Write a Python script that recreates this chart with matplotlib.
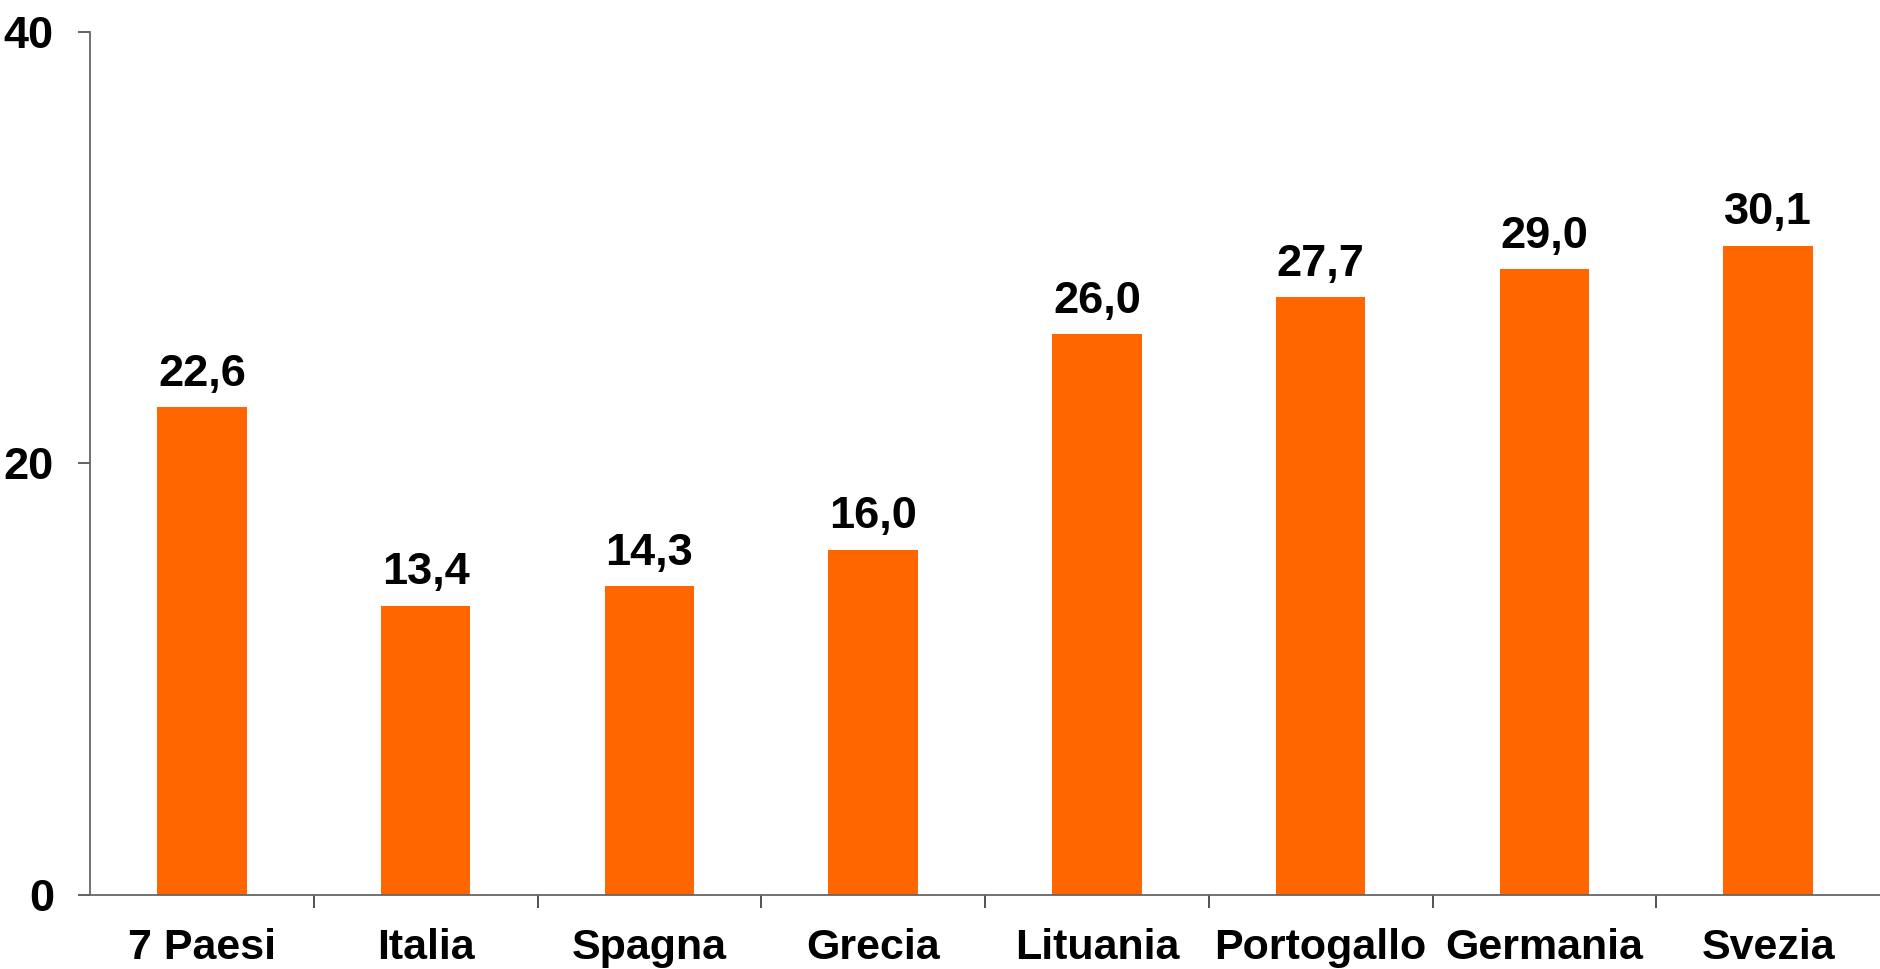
import numpy as np
import matplotlib
matplotlib.use("Agg")
import matplotlib.pyplot as plt
from matplotlib.ticker import FixedLocator

countries = ["7 Paesi", "Italia", "Spagna", "Grecia", "Lituania",
             "Portogallo", "Germania", "Svezia"]
values = [22.6, 13.4, 14.3, 16.0, 26.0, 27.7, 29.0, 30.1]
yticks = [0, 20, 40]

plt.rcParams["font.family"] = ["Liberation Sans", "DejaVu Sans"]
plt.rcParams["font.weight"] = "bold"

fig = plt.figure(figsize=(18.8, 9.69), dpi=100)
ax = fig.add_axes([90 / 1880, 74 / 969, 1790 / 1880, 863 / 969])

x = np.arange(len(countries))
ax.bar(x, values, width=0.4, color="#FF6600", zorder=2)

for xi, v in zip(x, values):
    ax.annotate(f"{v:.1f}".replace(".", ","), (xi, v), xytext=(0, 9),
                textcoords="offset points", ha="center", va="bottom",
                fontsize=32.5, fontweight="bold")

ax.set_xlim(-0.5, len(countries) - 0.5)
ax.set_ylim(0, 40)
ax.set_yticks(yticks)
ax.set_yticklabels([str(t) for t in yticks], fontsize=32.5, fontweight="bold")
ax.set_xticks(x)
ax.set_xticklabels(countries, fontsize=31, fontweight="bold")
ax.tick_params(axis="x", which="major", length=0, pad=24)
ax.xaxis.set_minor_locator(FixedLocator(np.arange(0.5, len(countries) - 0.5, 1)))
ax.tick_params(axis="x", which="minor", length=9, width=1.3, color="#444444",
               direction="out")
ax.tick_params(axis="y", length=9, width=1.3, color="#555555", pad=17)

for side in ["top", "right"]:
    ax.spines[side].set_visible(False)
for side in ["left", "bottom"]:
    ax.spines[side].set_color("#666666")
    ax.spines[side].set_linewidth(1.3)

fig.savefig("out.png", dpi=100)
